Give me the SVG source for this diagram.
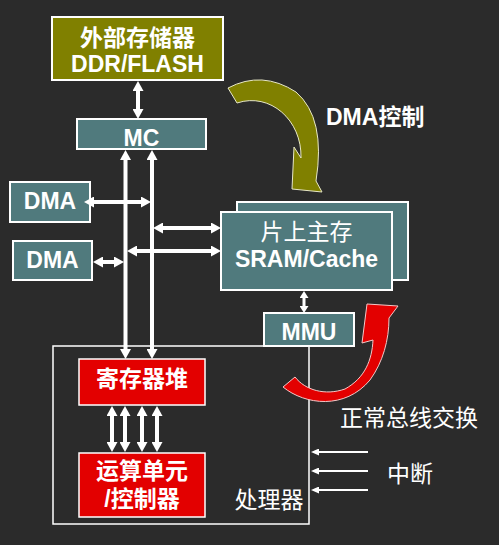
<svg xmlns="http://www.w3.org/2000/svg" width="499" height="545" viewBox="0 0 499 545">
<style>
.t{font-family:"Liberation Sans","Noto Sans CJK SC",sans-serif;font-size:23px;fill:#ffffff;text-anchor:middle;font-weight:bold}
.n{font-weight:normal}
.teal{fill:#507a7d;stroke:#ffffff;stroke-width:2}
.olive{fill:#808000;stroke:#ffffff;stroke-width:2}
.red{fill:#e30000;stroke:#ffffff;stroke-width:1.5}
.w4{stroke:#ffffff;stroke-width:4;fill:none}
.w3{stroke:#ffffff;stroke-width:3;fill:none}
.w2{stroke:#ffffff;stroke-width:2;fill:none}
</style>
<defs>
<marker id="a" markerUnits="userSpaceOnUse" markerWidth="10" markerHeight="11" viewBox="0 0 10 11" refX="1" refY="5.5" orient="auto-start-reverse"><path d="M0,0 L10,5.5 L0,11 z" fill="#ffffff"/></marker>
<marker id="s" markerUnits="userSpaceOnUse" markerWidth="7" markerHeight="9" viewBox="0 0 7 9" refX="1" refY="4.5" orient="auto-start-reverse"><path d="M0,0 L7,4.5 L0,9 z" fill="#ffffff"/></marker>
<marker id="i" markerUnits="userSpaceOnUse" markerWidth="8" markerHeight="7" viewBox="0 0 8 7" refX="1" refY="3.5" orient="auto"><path d="M0,0 L8,3.5 L0,7 z" fill="#ffffff"/></marker>
</defs>
<rect width="499" height="545" fill="#2b2b2b"/>

<g id="processor">
<rect x="53" y="346" width="256" height="178" fill="none" stroke="#ffffff" stroke-width="1.5"/>
<text class="t n" x="269" y="508">处理器</text>
</g>

<g id="ext-mem">
<rect class="olive" x="52" y="17" width="171" height="63"/>
<text class="t" x="137.5" y="46">外部存储器</text>
<text class="t" x="137.5" y="72">DDR/FLASH</text>
</g>

<g id="mc">
<rect class="teal" x="77" y="119" width="129" height="30"/>
<text class="t" x="141.5" y="146">MC</text>
</g>

<g id="dma1">
<rect class="teal" x="10" y="182" width="80" height="40"/>
<text class="t" x="50" y="209">DMA</text>
</g>

<g id="dma2">
<rect class="teal" x="13" y="241" width="79" height="39"/>
<text class="t" x="52.5" y="268">DMA</text>
</g>

<g id="sram">
<rect class="teal" x="237" y="202" width="171" height="78"/>
<rect class="teal" x="221" y="212" width="171" height="78"/>
<text class="t n" x="306.5" y="240">片上主存</text>
<text class="t" x="306.5" y="267">SRAM/Cache</text>
</g>

<g id="mmu">
<rect class="teal" x="264" y="313" width="90" height="33"/>
<text class="t" x="309" y="340">MMU</text>
</g>

<g id="regfile">
<rect class="red" x="79" y="359" width="126" height="46"/>
<text class="t" x="142" y="387">寄存器堆</text>
</g>

<g id="alu">
<rect class="red" x="79" y="453" width="126" height="64"/>
<text class="t" x="142" y="479">运算单元</text>
<text class="t" x="142" y="507">/控制器</text>
</g>

<g id="connectors">
<line class="w4" x1="138" y1="90" x2="138" y2="110" marker-start="url(#a)" marker-end="url(#a)"/>
<line class="w4" x1="125.5" y1="159" x2="125.5" y2="350" marker-start="url(#a)" marker-end="url(#a)"/>
<line class="w4" x1="152" y1="159" x2="152" y2="350" marker-start="url(#a)" marker-end="url(#a)"/>
<line class="w4" x1="93" y1="202" x2="142" y2="202" marker-start="url(#a)" marker-end="url(#a)"/>
<line class="w4" x1="162" y1="228" x2="212" y2="228" marker-start="url(#a)" marker-end="url(#a)"/>
<line class="w4" x1="136" y1="251" x2="212" y2="251" marker-start="url(#a)" marker-end="url(#a)"/>
<line class="w4" x1="102" y1="262" x2="115" y2="262" marker-start="url(#a)" marker-end="url(#a)"/>
<line class="w3" x1="304" y1="297" x2="304" y2="307" marker-start="url(#s)" marker-end="url(#s)"/>
<line class="w4" x1="112" y1="415" x2="112" y2="443" marker-start="url(#a)" marker-end="url(#a)"/>
<line class="w4" x1="125" y1="415" x2="125" y2="443" marker-start="url(#a)" marker-end="url(#a)"/>
<line class="w4" x1="142" y1="415" x2="142" y2="443" marker-start="url(#a)" marker-end="url(#a)"/>
<line class="w4" x1="157" y1="415" x2="157" y2="443" marker-start="url(#a)" marker-end="url(#a)"/>
<line class="w2" x1="368" y1="452" x2="318" y2="452" marker-end="url(#i)"/>
<line class="w2" x1="368" y1="471" x2="318" y2="471" marker-end="url(#i)"/>
<line class="w2" x1="368" y1="490" x2="318" y2="490" marker-end="url(#i)"/>
<path d="M228,88 Q262,70 296,92 Q326,118 316,181 L322,192 L292,189 L294,147 L301,158 C302,120 270,92 237,103 Z" fill="#808000" stroke="#e8e8c8" stroke-width="1"/>
<path d="M283,387 C305,405 345,410 370,380 C383,362 389,340 389,318 L398,306 L367,304 L362,343 L373,340 C372,360 365,378 345,389 C325,396 305,390 295,377 Z" fill="#e30000" stroke="#f4c8c8" stroke-width="1"/>
</g>

<g id="labels">
<text class="t" x="326" y="125" style="text-anchor:start">DMA控制</text>
<text class="t n" x="340" y="426" style="text-anchor:start">正常总线交换</text>
<text class="t n" x="387" y="482" style="text-anchor:start">中断</text>
</g>
</svg>
